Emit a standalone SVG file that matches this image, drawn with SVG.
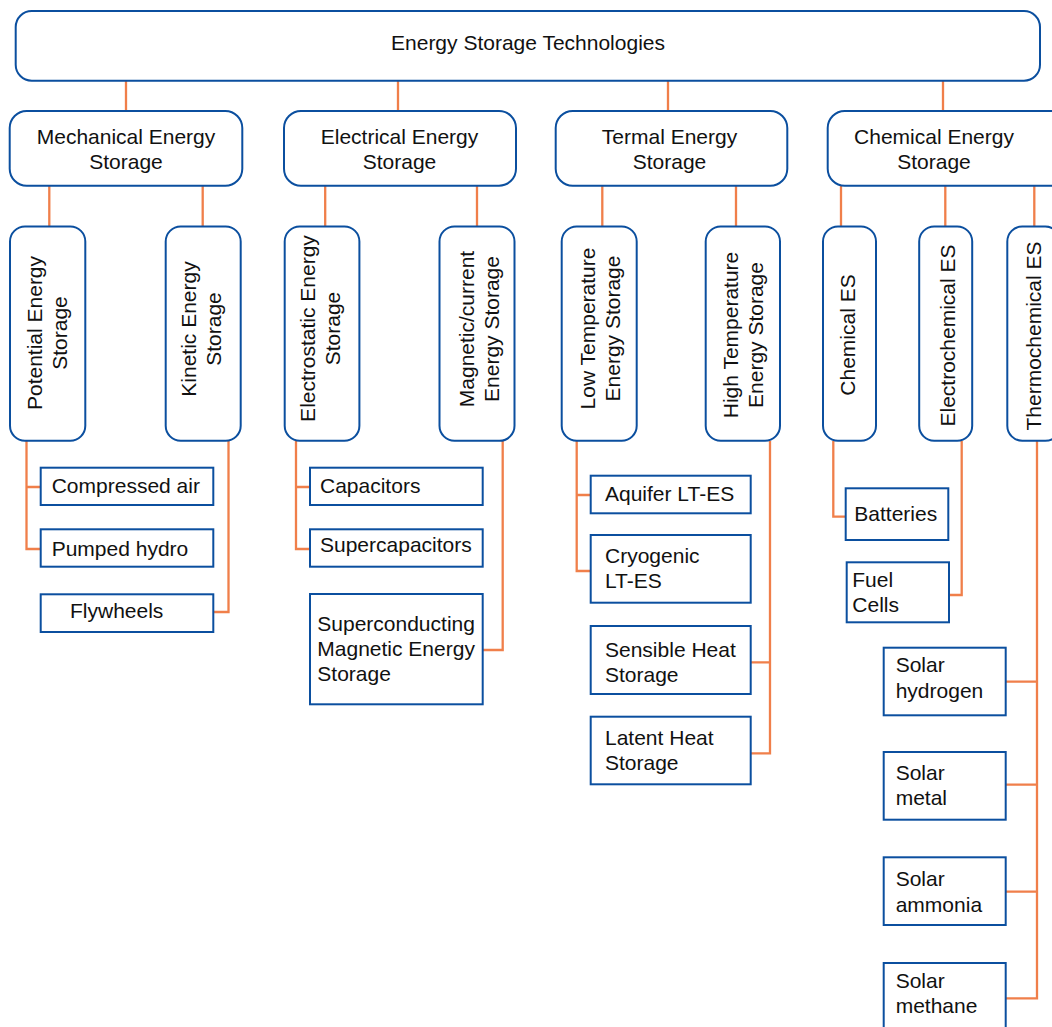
<svg xmlns="http://www.w3.org/2000/svg" width="1052" height="1027" viewBox="0 0 1052 1027">
<style>
  .box { fill: #ffffff; stroke: #0b4f9f; stroke-width: 2; }
  .leaf { fill: #ffffff; stroke: #0b4f9f; stroke-width: 2; }
  .lbl { font-family: "Liberation Sans", Arial, sans-serif; font-size: 21px; fill: #111111; }
  .c { text-anchor: middle; }
  .conn { fill: none; stroke: #f07f4a; stroke-width: 2.3; }
</style>
<rect width="1052" height="1027" fill="#ffffff"/>

<g id="connectors" class="conn">
  <path d="M126,81 V111 M398,81 V111 M668,81 V111 M943,81 V111"/>
  <path d="M49.3,186 V227 M202.7,186 V227 M325.2,186 V227 M477,186 V227 M602.3,186 V227 M736,186 V227 M841,186 V227 M945.3,186 V227 M1034.3,186 V227"/>
  <path d="M26.5,441 V549 H41 M26.5,487 H41"/>
  <path d="M228.5,441 V612 H213"/>
  <path d="M296,441 V549 H310 M296,487 H310"/>
  <path d="M502.7,441 V650 H483"/>
  <path d="M576.7,441 V571 H591 M576.7,495 H591"/>
  <path d="M770,441 V753.3 H751 M770,662.3 H751"/>
  <path d="M833.3,441 V516.7 H846"/>
  <path d="M961.7,441 V595 H949"/>
  <path d="M1037,441 V998.3 H1006 M1037,681.7 H1006 M1037,784.7 H1006 M1037,891.7 H1006"/>
</g>

<g id="root">
  <rect class="box" x="15.7" y="11" width="1024.3" height="69.7" rx="16"/>
  <text class="lbl c" x="528" y="50">Energy Storage Technologies</text>
</g>

<g id="mechanical">
  <rect class="box" x="9.7" y="111" width="232.6" height="74.7" rx="17"/>
  <text class="lbl c" x="126" y="144">Mechanical Energy<tspan x="126" y="168.5">Storage</tspan></text>
</g>
<g id="electrical">
  <rect class="box" x="284" y="111" width="232" height="74.7" rx="17"/>
  <text class="lbl c" x="399.5" y="144">Electrical Energy<tspan x="399.5" y="168.5">Storage</tspan></text>
</g>
<g id="termal">
  <rect class="box" x="555.7" y="111" width="231.6" height="74.7" rx="17"/>
  <text class="lbl c" x="669.5" y="144">Termal Energy<tspan x="669.5" y="168.5">Storage</tspan></text>
</g>
<g id="chemical">
  <rect class="box" x="827.7" y="111" width="240" height="74.7" rx="17"/>
  <text class="lbl c" x="934" y="144">Chemical Energy<tspan x="934" y="168.5">Storage</tspan></text>
</g>

<g id="potential">
  <rect class="box" x="10" y="226.5" width="75.3" height="214.3" rx="15"/>
  <text class="lbl c" transform="translate(41.5,333) rotate(-90)"><tspan x="0" y="0">Potential Energy</tspan><tspan x="0" y="25">Storage</tspan></text>
</g>
<g id="kinetic">
  <rect class="box" x="165.7" y="226.5" width="75" height="214.3" rx="15"/>
  <text class="lbl c" transform="translate(196,329) rotate(-90)"><tspan x="0" y="0">Kinetic Energy</tspan><tspan x="0" y="25">Storage</tspan></text>
</g>
<g id="electrostatic">
  <rect class="box" x="284.7" y="226.5" width="74.7" height="214.3" rx="15"/>
  <text class="lbl c" transform="translate(315,328.5) rotate(-90)"><tspan x="0" y="0">Electrostatic Energy</tspan><tspan x="0" y="25">Storage</tspan></text>
</g>
<g id="magnetic">
  <rect class="box" x="439.5" y="226.5" width="75" height="214.3" rx="15"/>
  <text class="lbl c" transform="translate(473.5,329) rotate(-90)"><tspan x="0" y="0">Magnetic/current</tspan><tspan x="0" y="25">Energy Storage</tspan></text>
</g>
<g id="lowtemp">
  <rect class="box" x="561.7" y="226.5" width="75" height="214.3" rx="15"/>
  <text class="lbl c" transform="translate(595,328.5) rotate(-90)"><tspan x="0" y="0">Low Temperature</tspan><tspan x="0" y="25">Energy Storage</tspan></text>
</g>
<g id="hightemp">
  <rect class="box" x="705.7" y="226.5" width="74.3" height="214.3" rx="15"/>
  <text class="lbl c" transform="translate(738.3,335) rotate(-90)"><tspan x="0" y="0">High Temperature</tspan><tspan x="0" y="25">Energy Storage</tspan></text>
</g>
<g id="chemical-es">
  <rect class="box" x="823" y="226.5" width="53" height="214.3" rx="15"/>
  <text class="lbl c" transform="translate(855,335) rotate(-90)">Chemical ES</text>
</g>
<g id="electrochemical-es">
  <rect class="box" x="919.2" y="226.5" width="53" height="214.3" rx="15"/>
  <text class="lbl c" transform="translate(955,335.5) rotate(-90)">Electrochemical ES</text>
</g>
<g id="thermochemical-es">
  <rect class="box" x="1007.3" y="226.5" width="53" height="214.3" rx="15"/>
  <text class="lbl c" transform="translate(1041,336) rotate(-90)">Thermochemical ES</text>
</g>

<g id="compressed-air">
  <rect class="leaf" x="40.7" y="467.7" width="172.6" height="37.3"/>
  <text class="lbl" x="51.7" y="493.3">Compressed air</text>
</g>
<g id="pumped-hydro">
  <rect class="leaf" x="40.7" y="529.3" width="172.6" height="37.4"/>
  <text class="lbl" x="51.7" y="556">Pumped hydro</text>
</g>
<g id="flywheels">
  <rect class="leaf" x="40.7" y="594.3" width="172.6" height="37.7"/>
  <text class="lbl" x="70" y="617.7">Flywheels</text>
</g>
<g id="capacitors">
  <rect class="leaf" x="310" y="467.7" width="172.7" height="37.3"/>
  <text class="lbl" x="320" y="493.3">Capacitors</text>
</g>
<g id="supercapacitors">
  <rect class="leaf" x="310" y="529.3" width="172.7" height="37.4"/>
  <text class="lbl" x="320" y="552">Supercapacitors</text>
</g>
<g id="smes">
  <rect class="leaf" x="310" y="594" width="172.7" height="110.3"/>
  <text class="lbl" x="317.3" y="630.5">Superconducting<tspan x="317.3" y="655.5">Magnetic Energy</tspan><tspan x="317.3" y="680.5">Storage</tspan></text>
</g>
<g id="aquifer">
  <rect class="leaf" x="590.7" y="475.7" width="160" height="37.6"/>
  <text class="lbl" x="605" y="501">Aquifer LT-ES</text>
</g>
<g id="cryogenic">
  <rect class="leaf" x="590.7" y="535" width="160" height="67.7"/>
  <text class="lbl" x="605" y="563.3">Cryogenic<tspan x="605" y="588.3">LT-ES</tspan></text>
</g>
<g id="sensible">
  <rect class="leaf" x="590.7" y="626" width="160" height="68"/>
  <text class="lbl" x="605" y="657.3">Sensible Heat<tspan x="605" y="682">Storage</tspan></text>
</g>
<g id="latent">
  <rect class="leaf" x="590.7" y="716.7" width="160" height="67.6"/>
  <text class="lbl" x="605" y="745">Latent Heat<tspan x="605" y="769.5">Storage</tspan></text>
</g>
<g id="batteries">
  <rect class="leaf" x="845.7" y="488.3" width="102.6" height="51.7"/>
  <text class="lbl" x="854.3" y="521">Batteries</text>
</g>
<g id="fuel-cells">
  <rect class="leaf" x="846.7" y="562.3" width="102.3" height="60"/>
  <text class="lbl" x="852.3" y="586.7">Fuel<tspan x="852.3" y="611.7">Cells</tspan></text>
</g>
<g id="solar-hydrogen">
  <rect class="leaf" x="883.7" y="647.7" width="122" height="67.6"/>
  <text class="lbl" x="895.7" y="672.3">Solar<tspan x="895.7" y="698.3">hydrogen</tspan></text>
</g>
<g id="solar-metal">
  <rect class="leaf" x="883.7" y="752" width="122" height="67.7"/>
  <text class="lbl" x="895.7" y="780">Solar<tspan x="895.7" y="805">metal</tspan></text>
</g>
<g id="solar-ammonia">
  <rect class="leaf" x="883.7" y="857.3" width="122" height="67.7"/>
  <text class="lbl" x="895.7" y="885.7">Solar<tspan x="895.7" y="911.7">ammonia</tspan></text>
</g>
<g id="solar-methane">
  <rect class="leaf" x="883.7" y="963" width="122" height="68"/>
  <text class="lbl" x="895.7" y="987.7">Solar<tspan x="895.7" y="1013.3">methane</tspan></text>
</g>
</svg>
